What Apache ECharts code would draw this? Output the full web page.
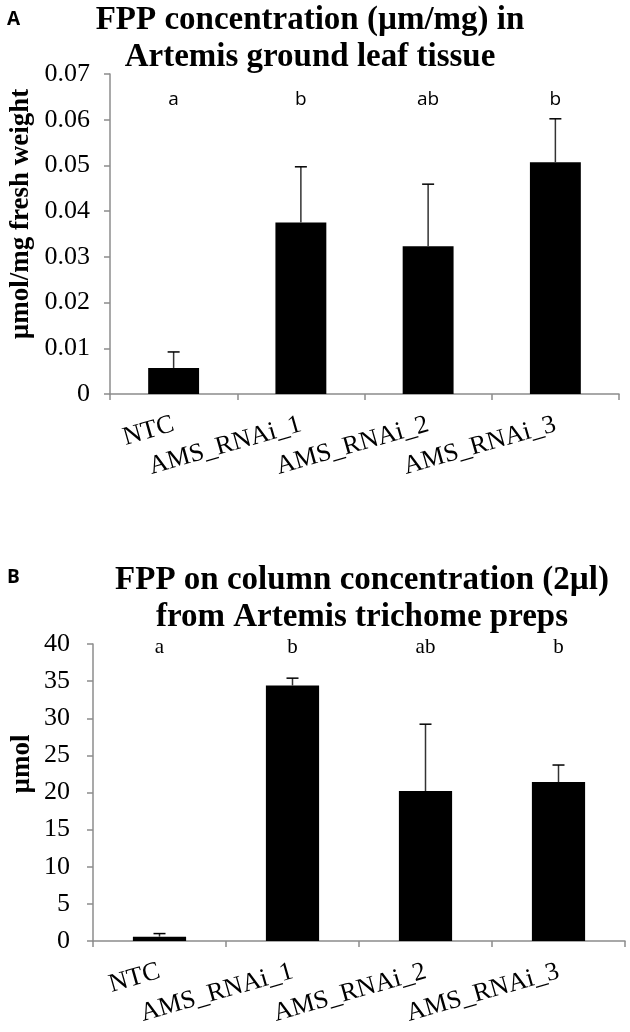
<!DOCTYPE html>
<html><head><meta charset="utf-8">
<script src="https://cdn.jsdelivr.net/npm/echarts@6/dist/echarts.min.js"></script>
<style>html,body{margin:0;padding:0;background:#fff}#c{width:630px;height:1032px}</style>
</head><body><div id="c"></div>
<script>
const categories = ['NTC', 'AMS_RNAi_1', 'AMS_RNAi_2', 'AMS_RNAi_3'];

// Panel A: FPP concentration in ground leaf tissue (µmol/mg fresh weight)
const leafMeans = [0.0057, 0.0375, 0.0323, 0.0507];
const leafErrors = [0.0035, 0.0122, 0.0136, 0.0095];
const leafLetters = ['a', 'b', 'ab', 'b'];
const leafAxis = { min: 0, max: 0.07, interval: 0.01 };

// Panel B: FPP on column concentration from trichome preps (µmol)
const trichMeans = [0.58, 34.4, 20.2, 21.4];
const trichErrors = [0.42, 1.0, 9.0, 2.3];
const trichLetters = ['a', 'b', 'ab', 'b'];
const trichAxis = { min: 0, max: 40, interval: 5 };

const SERIF = '"Liberation Serif", "Times New Roman", serif';
const SANS = '"Open Sans", "Liberation Sans", sans-serif';
const AXIS_GRAY = '#8c8c8c';

function errorRender(params, api) {
  const i = api.value(0), m = api.value(1), e = api.value(2);
  const b = api.coord([i, m]);
  const t = api.coord([i, m + e]);
  const hw = 6;
  return {
    type: 'group',
    children: [
      { type: 'line', shape: { x1: b[0], y1: b[1], x2: t[0], y2: t[1] }, style: { stroke: '#333', lineWidth: 1.5 } },
      { type: 'line', shape: { x1: t[0] - hw, y1: t[1], x2: t[0] + hw, y2: t[1] }, style: { stroke: '#000', lineWidth: 1.5 } }
    ]
  };
}

function letterRender(letters, offset, font, size) {
  return function (params, api) {
    const i = api.value(0);
    const x = api.coord([i, 0])[0];
    const y = params.coordSys.y + offset;
    return {
      type: 'text',
      style: { text: letters[i], x: x, y: y, align: 'center', verticalAlign: 'middle', fontFamily: font, fontSize: size, fill: '#000' }
    };
  };
}

function xAxisCfg(gridIndex, margin) {
  return {
    type: 'category', gridIndex: gridIndex, data: categories,
    axisLine: { lineStyle: { color: AXIS_GRAY, width: 1.5 } },
    axisTick: { show: true, length: 6, lineStyle: { color: AXIS_GRAY, width: 1.5 } },
    axisLabel: { interval: 0, rotate: 16, margin: margin, fontFamily: SERIF, fontSize: 26, color: '#000' }
  };
}

function yAxisCfg(gridIndex, ax, margin, fmt) {
  return {
    type: 'value', gridIndex: gridIndex, min: ax.min, max: ax.max, interval: ax.interval,
    splitLine: { show: false },
    axisLine: { show: true, lineStyle: { color: AXIS_GRAY, width: 1.5 } },
    axisTick: { show: true, length: 6, lineStyle: { color: AXIS_GRAY, width: 1.5 } },
    axisLabel: { margin: margin, fontFamily: SERIF, fontSize: 26, color: '#000', formatter: fmt }
  };
}

const chart = echarts.init(document.getElementById('c'), null, { renderer: 'canvas' });
chart.setOption({
  animation: false,
  backgroundColor: '#fff',
  grid: [
    { left: 110, top: 74, width: 509, height: 320 },
    { left: 93, top: 644, width: 532, height: 297 }
  ],
  xAxis: [xAxisCfg(0, 30), xAxisCfg(1, 30)],
  yAxis: [
    yAxisCfg(0, leafAxis, 20, v => v === 0 ? '0' : v.toFixed(2)),
    yAxisCfg(1, trichAxis, 23, v => String(v))
  ],
  series: [
    { type: 'bar', xAxisIndex: 0, yAxisIndex: 0, data: leafMeans, barWidth: '40%', itemStyle: { color: '#000' } },
    { type: 'custom', xAxisIndex: 0, yAxisIndex: 0, renderItem: errorRender, encode: { x: 0, y: 1 }, z: 5,
      data: categories.map((c, i) => [i, leafMeans[i], leafErrors[i]]) },
    { type: 'custom', xAxisIndex: 0, yAxisIndex: 0, renderItem: letterRender(leafLetters, 26, SANS, 19), encode: { x: 0, y: 1 },
      data: categories.map((c, i) => [i, 0]) },
    { type: 'bar', xAxisIndex: 1, yAxisIndex: 1, data: trichMeans, barWidth: '40%', itemStyle: { color: '#000' } },
    { type: 'custom', xAxisIndex: 1, yAxisIndex: 1, renderItem: errorRender, encode: { x: 0, y: 1 }, z: 5,
      data: categories.map((c, i) => [i, trichMeans[i], trichErrors[i]]) },
    { type: 'custom', xAxisIndex: 1, yAxisIndex: 1, renderItem: letterRender(trichLetters, 3, SERIF, 21), encode: { x: 0, y: 1 },
      data: categories.map((c, i) => [i, 0]) }
  ],
  graphic: [
    { type: 'text', x: 7, y: 20, style: { text: 'A', verticalAlign: 'middle', fontFamily: SANS, fontWeight: 'bold', fontSize: 19, fill: '#000' } },
    { type: 'text', x: 7, y: 578, style: { text: 'B', verticalAlign: 'middle', fontFamily: SANS, fontWeight: 'bold', fontSize: 19, fill: '#000' } },
    { type: 'text', x: 310, y: 20, style: { text: 'FPP concentration (µm/mg) in', align: 'center', verticalAlign: 'middle', fontFamily: SERIF, fontWeight: 'bold', fontSize: 33, fill: '#000' } },
    { type: 'text', x: 310, y: 57, style: { text: 'Artemis ground leaf tissue', align: 'center', verticalAlign: 'middle', fontFamily: SERIF, fontWeight: 'bold', fontSize: 33, fill: '#000' } },
    { type: 'text', x: 362, y: 580, style: { text: 'FPP on column concentration (2µl)', align: 'center', verticalAlign: 'middle', fontFamily: SERIF, fontWeight: 'bold', fontSize: 33, fill: '#000' } },
    { type: 'text', x: 362, y: 617, style: { text: 'from Artemis trichome preps', align: 'center', verticalAlign: 'middle', fontFamily: SERIF, fontWeight: 'bold', fontSize: 33, fill: '#000' } },
    { type: 'text', x: 21, y: 214, rotation: Math.PI / 2, style: { text: 'µmol/mg fresh weight', align: 'center', verticalAlign: 'middle', fontFamily: SERIF, fontWeight: 'bold', fontSize: 27, fill: '#000' } },
    { type: 'text', x: 22, y: 764, rotation: Math.PI / 2, style: { text: 'µmol', align: 'center', verticalAlign: 'middle', fontFamily: SERIF, fontWeight: 'bold', fontSize: 27, fill: '#000' } }
  ]
});
</script>
</body></html>
